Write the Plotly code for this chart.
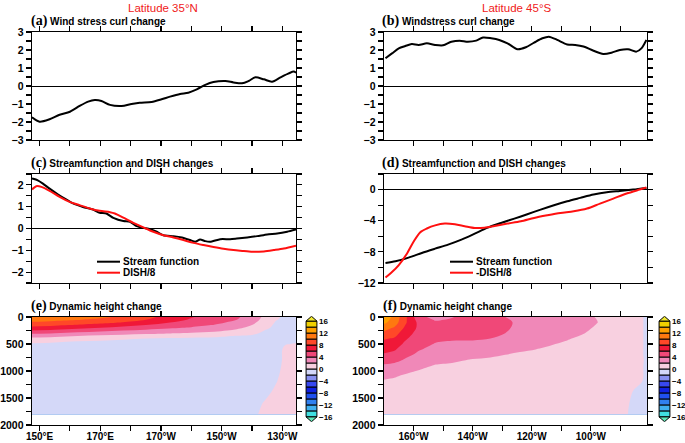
import plotly.graph_objects as go

W, H = 685, 443

# ---------------- data ----------------
# (a) wind stress curl change, 35N
lon_a = [147.5, 150, 153.3, 156.6, 160, 163.2, 166, 168.2, 170.4, 173.2, 177, 180.3, 183, 186.9,
         190.2, 193, 196.3, 199, 201.8, 204.6, 207.3, 211.2, 213.9, 216.7, 218.9, 221.1, 223.9,
         226.6, 229.4, 232.1, 233.8, 234.5]
curl_a = [-1.74, -1.98, -1.85, -1.6, -1.43, -1.11, -0.87, -0.78, -0.83, -1.05, -1.11, -1.0, -0.93,
          -0.89, -0.74, -0.59, -0.44, -0.37, -0.19, 0.06, 0.22, 0.28, 0.2, 0.15, 0.28, 0.48, 0.37,
          0.24, 0.48, 0.7, 0.8, 0.74]

# (b) wind stress curl change, 45S
lon_b = [190.5, 192.7, 195.0, 197.2, 199.4, 201.7, 204.5, 207.3, 210, 212.8, 215.6, 218.4, 221.2,
         223.5, 226.3, 229, 231.8, 235.2, 238, 240.8, 243.6, 245.8, 248.6, 252, 254.7, 257.5,
         260.9, 264.2, 267, 269.8, 272.6, 275.4, 277.1, 278.8]
curl_b = [1.54, 1.81, 2.09, 2.22, 2.33, 2.28, 2.37, 2.28, 2.26, 2.46, 2.52, 2.46, 2.52, 2.69, 2.65,
          2.56, 2.37, 2.04, 2.15, 2.41, 2.65, 2.74, 2.56, 2.31, 2.28, 2.19, 1.96, 1.78, 1.85, 2.0,
          2.04, 1.91, 2.09, 2.56]

# (c) streamfunction and DISH/8, 35N
lon_c_sf = [147.5, 149.4, 151.1, 153.3, 156.1, 158.3, 161, 164.3, 167.6, 169.8, 172, 174.3, 177.6,
            179.8, 182, 184.2, 186.4, 188.6, 190.8, 194.1, 196.9, 199.6, 201.3, 202.9, 204.6, 206.2,
            209.5, 212.8, 215, 218.4, 221.7, 225, 228.3, 231.6, 234.5]
sf_c = [2.29, 2.21, 2.06, 1.83, 1.56, 1.37, 1.15, 0.99, 0.87, 0.72, 0.69, 0.49, 0.34, 0.31, 0.11,
        0.03, -0.03, -0.15, -0.31, -0.35, -0.41, -0.53, -0.61, -0.5, -0.58, -0.61, -0.49, -0.49,
        -0.46, -0.41, -0.35, -0.27, -0.23, -0.15, -0.05]
lon_c_dish = [147.5, 148.9, 150.6, 153.3, 156.6, 159.9, 163.2, 166.5, 169.8, 173.2, 174.8, 177.6,
              180.9, 184.2, 187.5, 190.8, 194.1, 197.4, 200.7, 204, 207.3, 210.6, 213.9, 217.3,
              220.6, 223.9, 227.2, 230.5, 234.5]
dish_c = [1.79, 1.94, 1.91, 1.73, 1.45, 1.22, 1.07, 0.92, 0.81, 0.75, 0.69, 0.5, 0.26, 0.05, -0.15,
          -0.31, -0.41, -0.53, -0.66, -0.76, -0.85, -0.93, -0.99, -1.03, -1.07, -1.05, -0.99, -0.92,
          -0.79]

# (d) streamfunction and -DISH/8, 45S
lon_d_sf = [190.5, 193.9, 198.3, 202.8, 207.3, 211.7, 216.2, 220.7, 225.1, 229.6, 234.1, 238.5,
            243, 247.5, 252, 256.4, 260.9, 265.4, 269.8, 274.3, 278.8]
sf_d = [-9.43, -9.21, -8.74, -8.14, -7.59, -7.07, -6.43, -5.66, -4.89, -4.29, -3.73, -3.17, -2.57,
        -2.01, -1.5, -1.07, -0.64, -0.34, -0.17, 0.0, 0.21]
lon_d_dish = [190.5, 192.7, 195, 197.8, 200, 202.2, 204.5, 207.3, 210.6, 214, 217.3, 220.7, 224,
              227.4, 231.8, 236.3, 240.8, 245.3, 249.7, 254.2, 258.7, 263.1, 267.6, 272.1, 276.5,
              278.8]
dish_d = [-11.3, -10.6, -9.7, -8.2, -6.7, -5.5, -5.0, -4.6, -4.37, -4.46, -4.7, -4.93, -4.89, -4.67,
          -4.37, -4.07, -3.64, -3.3, -3.0, -2.79, -2.44, -1.8, -1.16, -0.51, 0.0, 0.26]

# (e) dynamic height change, 35N  (columns = longitude, values listed top->bottom by depth)
depth_e = [0, 50, 100, 150, 200, 250, 300, 350, 400, 450, 500, 600, 800, 1000, 1200, 1400, 1600, 1800]
lon_e = [147.5, 155, 162.5, 170, 177.5, 185, 192.5, 200, 207.5, 215, 220, 224, 228, 231, 234.5]
dh_e_cols = [
    [11.6, 10.8, 9.8, 8.7, 7.4, 6.0, 4.3, 2.8, 1.5, 0.6, -0.2, -0.8, -1.0, -1.0, -1.0, -1.0, -1.0, -1.0],
    [11.3, 10.5, 9.4, 8.3, 7.0, 5.6, 4.0, 2.5, 1.2, 0.3, -0.4, -0.8, -1.0, -1.0, -1.0, -1.0, -1.0, -1.0],
    [10.9, 10.1, 9.0, 7.8, 6.5, 5.0, 3.4, 2.0, 0.9, 0.0, -0.5, -0.9, -1.0, -1.0, -1.0, -1.0, -1.0, -1.0],
    [10.4, 9.6, 8.5, 7.3, 6.0, 4.5, 3.0, 1.7, 0.6, -0.2, -0.6, -0.9, -1.0, -1.0, -1.0, -1.0, -1.0, -1.0],
    [9.6, 8.9, 7.9, 6.7, 5.4, 4.0, 2.7, 1.4, 0.3, -0.4, -0.7, -0.9, -1.0, -1.0, -1.0, -1.0, -1.0, -1.0],
    [8.6, 8.0, 7.1, 6.0, 4.9, 3.6, 2.4, 1.2, 0.0, -0.5, -0.8, -0.9, -1.0, -1.0, -1.0, -1.0, -1.0, -1.0],
    [7.3, 6.8, 6.1, 5.2, 4.3, 3.3, 2.1, 0.9, -0.2, -0.6, -0.8, -0.9, -1.0, -1.0, -1.0, -1.0, -1.0, -1.0],
    [6.1, 5.8, 5.3, 4.6, 3.8, 2.9, 1.8, 0.6, -0.3, -0.7, -0.8, -0.9, -1.0, -1.0, -1.0, -1.0, -1.0, -1.0],
    [5.3, 5.0, 4.5, 3.9, 3.2, 2.4, 1.5, 0.4, -0.4, -0.7, -0.8, -0.9, -1.0, -1.0, -1.0, -1.0, -1.0, -1.0],
    [4.3, 4.0, 3.5, 2.9, 2.3, 1.7, 1.0, -0.1, -0.5, -0.7, -0.8, -0.9, -0.9, -0.9, -0.9, -0.9, -0.9, -0.9],
    [3.0, 2.8, 2.4, 2.0, 1.6, 1.1, 0.5, -0.3, -0.6, -0.7, -0.7, -0.8, -0.9, -0.9, -0.9, -0.8, -0.6, -0.3],
    [1.7, 1.5, 1.2, 0.9, 0.5, 0.0, -0.4, -0.6, -0.7, -0.7, -0.6, -0.6, -0.7, -0.8, -0.7, -0.4, 0.1, 0.3],
    [0.4, 0.1, -0.2, -0.4, -0.5, -0.5, -0.5, -0.5, -0.5, -0.4, -0.4, -0.4, -0.5, -0.3, -0.05, 0.3, 0.5, 0.6],
    [-0.5, -0.5, -0.5, -0.5, -0.5, -0.5, -0.5, -0.5, -0.4, -0.2, -0.05, 0.2, 0.3, 0.4, 0.5, 0.6, 0.7, 0.7],
    [-0.7, -0.7, -0.6, -0.6, -0.5, -0.5, -0.4, -0.4, -0.3, -0.15, 0.05, 0.3, 0.5, 0.6, 0.7, 0.8, 0.8, 0.8],
]

# (f) dynamic height change, 45S
depth_f = [0, 50, 100, 200, 300, 400, 500, 600, 700, 800, 900, 1000, 1100, 1200, 1400, 1600, 1800]
lon_f = [190, 193.5, 197, 202, 207.5, 213, 220, 226, 231, 236, 244, 252, 258, 262, 267, 272, 274.5, 276.5, 279]
dh_f_cols = [
    [13.2, 12.8, 12.4, 10.8, 9.6, 8.2, 7.3, 6.5, 5.8, 4.8, 3.7, 3.0, 2.3, 1.8, 1.3, 1.0, 0.9],
    [11.5, 11.3, 11.0, 9.8, 8.8, 7.8, 7.0, 6.2, 5.4, 4.5, 3.5, 2.7, 2.1, 1.7, 1.2, 1.0, 0.9],
    [8.6, 8.5, 8.4, 7.8, 7.0, 6.3, 5.7, 5.1, 4.5, 3.8, 3.0, 2.3, 1.8, 1.5, 1.1, 0.9, 0.8],
    [4.5, 5.0, 5.4, 5.5, 5.2, 4.9, 4.5, 4.1, 3.6, 3.1, 2.4, 1.9, 1.6, 1.4, 1.1, 0.9, 0.8],
    [3.4, 3.8, 4.3, 4.8, 4.6, 4.3, 3.9, 3.5, 3.0, 2.4, 1.9, 1.6, 1.4, 1.2, 1.0, 0.8, 0.7],
    [3.9, 4.2, 4.6, 4.9, 4.6, 4.2, 3.7, 3.3, 2.8, 2.2, 1.8, 1.5, 1.3, 1.2, 1.0, 0.8, 0.7],
    [4.8, 5.0, 5.2, 5.1, 4.7, 4.2, 3.6, 3.0, 2.4, 1.9, 1.6, 1.4, 1.3, 1.2, 1.0, 0.9, 0.8],
    [4.8, 4.9, 5.0, 4.8, 4.4, 4.0, 3.4, 2.8, 2.2, 1.8, 1.5, 1.3, 1.2, 1.1, 1.0, 0.9, 0.8],
    [4.0, 4.3, 4.4, 4.3, 4.0, 3.5, 3.0, 2.4, 2.0, 1.7, 1.4, 1.2, 1.1, 1.0, 0.9, 0.8, 0.7],
    [3.2, 3.4, 3.6, 3.5, 3.3, 3.0, 2.6, 2.2, 1.8, 1.5, 1.3, 1.2, 1.1, 1.0, 0.9, 0.8, 0.7],
    [3.0, 3.0, 3.1, 3.0, 2.8, 2.5, 2.2, 1.9, 1.6, 1.4, 1.3, 1.2, 1.1, 1.0, 0.9, 0.8, 0.7],
    [2.7, 2.7, 2.7, 2.6, 2.4, 2.1, 1.8, 1.5, 1.3, 1.2, 1.1, 1.1, 1.0, 1.0, 0.9, 0.8, 0.7],
    [2.4, 2.4, 2.4, 2.3, 2.0, 1.7, 1.5, 1.3, 1.2, 1.1, 1.1, 1.0, 1.0, 0.9, 0.8, 0.7, 0.6],
    [1.9, 2.0, 2.05, 1.8, 1.6, 1.4, 1.3, 1.2, 1.1, 1.0, 1.0, 1.0, 0.9, 0.9, 0.8, 0.7, 0.6],
    [1.2, 1.3, 1.3, 1.3, 1.2, 1.1, 1.1, 1.0, 1.0, 1.0, 0.9, 0.9, 0.9, 0.8, 0.7, 0.6, 0.5],
    [0.8, 0.8, 0.8, 0.8, 0.8, 0.8, 0.8, 0.8, 0.7, 0.7, 0.7, 0.7, 0.6, 0.6, 0.4, 0.2, 0.1],
    [0.6, 0.6, 0.6, 0.6, 0.6, 0.6, 0.6, 0.6, 0.5, 0.5, 0.5, 0.5, 0.4, 0.3, -0.1, -0.3, -0.4],
    [0.4, 0.4, 0.4, 0.4, 0.4, 0.4, 0.4, 0.4, 0.4, 0.4, 0.3, 0.3, 0.2, 0.1, -0.3, -0.4, -0.5],
    [-0.4, -0.4, -0.4, -0.4, -0.4, -0.4, -0.4, -0.4, -0.4, -0.3, -0.3, -0.3, -0.2, -0.2, -0.4, -0.5, -0.5],
]

# contour levels and colours
levels = list(range(-16, 17, 2))
box_colors = ['#40E0E0', '#40B0F0', '#3080F0', '#2050F0', '#1020E0', '#3848F0', '#8890F0', '#D4D8F8',
              '#F8D0E0', '#F088B8', '#F04878', '#F01838', '#FF4828', '#FF7810', '#FFA000', '#F0D000']
low_color = '#60E8B8'
high_color = '#F0E830'

# tick labels
lat_titles = ['Latitude 35°N', 'Latitude 45°S']
xt_left = [150, 160, 170, 180, 190, 200, 210, 220, 230]
xt_left_text = ['150°E', '', '170°E', '', '170°W', '', '150°W', '', '130°W']
xt_right = [200, 210, 220, 230, 240, 250, 260, 270]
xt_right_text = ['160°W', '', '140°W', '', '120°W', '', '100°W', '']
depth_ticks = [0, 250, 500, 750, 1000, 1250, 1500, 1750, 2000]
depth_text = ['0', '', '500', '', '1000', '', '1500', '', '2000']

# ---------------- layout helpers ----------------
def px(x):
    return x / W

def py(y):
    return 1 - y / H

XL = [px(32), px(296)]
XR = [px(384), px(647)]
ROW1 = [py(140), py(32)]
ROW2 = [py(283), py(174)]
ROW3 = [py(425), py(317)]

FONT = 'Liberation Sans'
tickfont = dict(family=FONT, size=10.5, color='black', weight='bold')


def axis(**kw):
    d = dict(showline=True, linecolor='black', linewidth=1.4, mirror='ticks', ticks='outside',
             ticklen=5, tickwidth=1.1, tickcolor='black', showgrid=False, zeroline=False,
             tickfont=tickfont, fixedrange=True, automargin=False)
    d.update(kw)
    return d


def step_scale(colors):
    n = len(colors)
    cs = []
    for k, c in enumerate(colors):
        lo = max(0.0, (k - 0.5) / (n - 1))
        hi = min(1.0, (k + 0.5) / (n - 1))
        cs.append([lo, c])
        cs.append([hi, c])
    return cs


band_colors = [low_color] + box_colors + [high_color]
cscale = step_scale(band_colors)

fig = go.Figure()

line_kw = dict(mode='lines', showlegend=False, hoverinfo='skip')

# (a)
fig.add_trace(go.Scatter(x=lon_a, y=curl_a, xaxis='x', yaxis='y',
                         line=dict(color='black', width=2, shape='spline', smoothing=0.8), **line_kw))
# (b)
fig.add_trace(go.Scatter(x=lon_b, y=curl_b, xaxis='x2', yaxis='y2',
                         line=dict(color='black', width=2, shape='spline', smoothing=0.8), **line_kw))
# (c)
fig.add_trace(go.Scatter(x=lon_c_sf, y=sf_c, xaxis='x3', yaxis='y3',
                         line=dict(color='black', width=2, shape='spline', smoothing=0.6), **line_kw))
fig.add_trace(go.Scatter(x=lon_c_dish, y=dish_c, xaxis='x3', yaxis='y3',
                         line=dict(color='#FF1010', width=2, shape='spline', smoothing=0.8), **line_kw))
# (d)
fig.add_trace(go.Scatter(x=lon_d_sf, y=sf_d, xaxis='x4', yaxis='y4',
                         line=dict(color='black', width=2, shape='spline', smoothing=0.8), **line_kw))
fig.add_trace(go.Scatter(x=lon_d_dish, y=dish_d, xaxis='x4', yaxis='y4',
                         line=dict(color='#FF1010', width=2, shape='spline', smoothing=0.8), **line_kw))

# (e), (f) contours
for cols, lons, deps, xa, ya in [(dh_e_cols, lon_e, depth_e, 'x5', 'y5'),
                                 (dh_f_cols, lon_f, depth_f, 'x6', 'y6')]:
    z = [list(r) for r in zip(*cols)]
    fig.add_trace(go.Contour(
        x=lons, y=deps, z=z, xaxis=xa, yaxis=ya,
        contours=dict(start=levels[0], end=levels[-1], size=2, coloring='fill', showlines=False),
        line=dict(width=0, smoothing=1.0),
        colorscale=cscale, zmin=levels[0], zmax=levels[-1], zauto=False,
        showscale=False, hoverinfo='skip'))

# colour bars (labelbars)
for xa, ya in [('x7', 'y7'), ('x8', 'y8')]:
    fig.add_trace(go.Bar(x=[0] * len(box_colors), y=[2] * len(box_colors), base=levels[:-1],
                         width=1, xaxis=xa, yaxis=ya,
                         marker=dict(color=box_colors, line=dict(color='black', width=1)),
                         showlegend=False, hoverinfo='skip'))
    fig.add_trace(go.Scatter(x=[-0.5, 0.5, 0, -0.5], y=[16, 16, 17.6, 16], fill='toself',
                             fillcolor=high_color, xaxis=xa, yaxis=ya,
                             line=dict(color='black', width=1), **line_kw))
    fig.add_trace(go.Scatter(x=[-0.5, 0.5, 0, -0.5], y=[-16, -16, -17.6, -16], fill='toself',
                             fillcolor=low_color, xaxis=xa, yaxis=ya,
                             line=dict(color='black', width=1), **line_kw))

lay = dict(width=W, height=H, autosize=False, margin=dict(l=0, r=0, t=0, b=0, pad=0, autoexpand=False),
           paper_bgcolor='white', plot_bgcolor='white', showlegend=False, barmode='overlay')

none_text_l = [''] * len(xt_left)
none_text_r = [''] * len(xt_right)

lay['xaxis'] = axis(domain=XL, range=[147.5, 234.5], anchor='y', tickvals=xt_left, ticktext=none_text_l)
lay['yaxis'] = axis(domain=ROW1, range=[-3, 3], anchor='x',
                    tickvals=[-3, -2.5, -2, -1.5, -1, -0.5, 0, 0.5, 1, 1.5, 2, 2.5, 3],
                    ticktext=['−3', '', '−2', '', '−1', '', '0', '', '1', '', '2', '', '3'],
                    zeroline=True, zerolinecolor='black', zerolinewidth=1)
lay['xaxis2'] = axis(domain=XR, range=[190, 279], anchor='y2', tickvals=xt_right, ticktext=none_text_r)
lay['yaxis2'] = axis(domain=ROW1, range=[-3, 3], anchor='x2',
                     tickvals=[-3, -2.5, -2, -1.5, -1, -0.5, 0, 0.5, 1, 1.5, 2, 2.5, 3],
                     ticktext=['−3', '', '−2', '', '−1', '', '0', '', '1', '', '2', '', '3'],
                     zeroline=True, zerolinecolor='black', zerolinewidth=1)
lay['xaxis3'] = axis(domain=XL, range=[147.5, 234.5], anchor='y3', tickvals=xt_left, ticktext=none_text_l)
lay['yaxis3'] = axis(domain=ROW2, range=[-2.5, 2.5], anchor='x3',
                     tickvals=[-2.5, -2, -1.5, -1, -0.5, 0, 0.5, 1, 1.5, 2, 2.5],
                     ticktext=['', '−2', '', '−1', '', '0', '', '1', '', '2', ''],
                     zeroline=True, zerolinecolor='black', zerolinewidth=1)
lay['xaxis4'] = axis(domain=XR, range=[190, 279], anchor='y4', tickvals=xt_right, ticktext=none_text_r)
lay['yaxis4'] = axis(domain=ROW2, range=[-12, 2], anchor='x4',
                     tickvals=[-12, -10, -8, -6, -4, -2, 0, 2],
                     ticktext=['−12', '', '−8', '', '−4', '', '0', ''],
                     zeroline=True, zerolinecolor='black', zerolinewidth=1)
lay['xaxis5'] = axis(domain=XL, range=[147.5, 234.5], anchor='y5', tickvals=xt_left, ticktext=xt_left_text,
                     ticklabelstandoff=-3, tickfont=dict(family=FONT, size=10, color='black', weight='bold'))
lay['yaxis5'] = axis(domain=ROW3, range=[2000, 0], anchor='x5', tickvals=depth_ticks, ticktext=depth_text)
lay['xaxis6'] = axis(domain=XR, range=[190, 279], anchor='y6', tickvals=xt_right, ticktext=xt_right_text,
                     ticklabelstandoff=-3, tickfont=dict(family=FONT, size=10, color='black', weight='bold'))
lay['yaxis6'] = axis(domain=ROW3, range=[2000, 0], anchor='x6', tickvals=depth_ticks, ticktext=depth_text)

CB_Y = [py(422), py(316)]
cb_ticks = [16, 12, 8, 4, 0, -4, -8, -12, -16]
cb_text = ['16', '12', '8', '4', '0', '−4', '−8', '−12', '−16']
for i, xd in [(7, [px(305), px(318)]), (8, [px(658), px(671)])]:
    lay['xaxis%d' % i] = dict(domain=xd, range=[-0.6, 0.6], visible=False, anchor='y%d' % i, fixedrange=True)
    lay['yaxis%d' % i] = dict(domain=CB_Y, range=[-17.7, 17.7], anchor='x%d' % i, side='right',
                              showline=False, showgrid=False, zeroline=False, ticks='',
                              tickvals=cb_ticks, ticktext=cb_text, fixedrange=True, automargin=False,
                              tickfont=dict(family=FONT, size=8, color='black', weight='bold'))

ann = []
for txt, xc in [(lat_titles[0], 163), (lat_titles[1], 517)]:
    ann.append(dict(x=px(xc), y=py(8), xanchor='center', yanchor='middle', text=txt, showarrow=False,
                    xref='paper', yref='paper', font=dict(family=FONT, size=11.5, color='#F02020')))

panel_titles = [('(a)', 'Wind stress curl change', 29, 20.7),
                ('(b)', 'Windstress curl change', 380, 20.7),
                ('(c)', 'Streamfunction and DISH changes', 29, 163),
                ('(d)', 'Streamfunction and DISH changes', 380, 163),
                ('(e)', 'Dynamic height change', 29, 305.7),
                ('(f)', 'Dynamic height change', 381, 305.7)]
for tag, txt, x0, y0 in panel_titles:
    ann.append(dict(x=px(x0), y=py(y0), xanchor='left', yanchor='middle', showarrow=False,
                    xref='paper', yref='paper',
                    text='<span style="font-family:Liberation Serif;font-size:14px">%s</span> %s' % (tag, txt),
                    font=dict(family=FONT, size=10, color='black', weight='bold')))

# legends for (c) and (d)
legend_items = [('Stream function', 'black', 'DISH/8', '#FF1010', 97, 121),
                ('Stream function', 'black', '-DISH/8', '#FF1010', 450, 474)]
shapes = []
for t1, c1, t2, c2, x0, xt in legend_items:
    for t, c, yy in [(t1, c1, 261.7), (t2, c2, 272.7)]:
        shapes.append(dict(type='line', xref='paper', yref='paper', x0=px(x0), x1=px(x0 + 23),
                           y0=py(yy), y1=py(yy), line=dict(color=c, width=2)))
        ann.append(dict(x=px(xt), y=py(yy), xanchor='left', yanchor='middle', showarrow=False,
                        xref='paper', yref='paper', text=t,
                        font=dict(family=FONT, size=10, color='black', weight='bold')))

lay['annotations'] = ann
lay['shapes'] = shapes
fig.update_layout(**lay)

fig.write_html('out.html', config={'displayModeBar': False, 'staticPlot': True},
               post_script="document.body.style.margin='0';document.body.style.overflow='hidden';")
